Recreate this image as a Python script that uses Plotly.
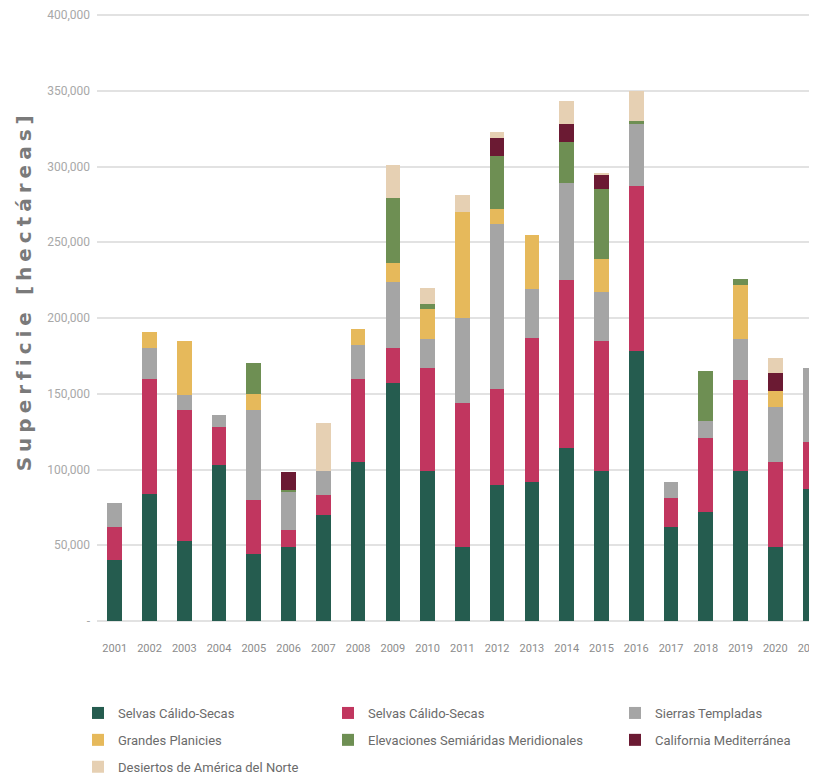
import plotly.graph_objects as go

years = [str(y) for y in range(2001, 2022)]

selvas_1 = [40000, 84000, 53000, 103000, 44000, 49000, 70000, 105000, 157000, 99000, 49000,
            90000, 92000, 114000, 99000, 178000, 62000, 72000, 99000, 49000, 87000]
selvas_2 = [22000, 76000, 86000, 25000, 36000, 11000, 13000, 55000, 23000, 68000, 95000,
            63000, 95000, 111000, 86000, 109000, 19000, 49000, 60000, 56000, 31000]
sierras = [16000, 20000, 10000, 8000, 59000, 25000, 16000, 22000, 44000, 19000, 56000,
           109000, 32000, 64000, 32000, 41000, 11000, 11000, 27000, 36000, 49000]
planicies = [0, 11000, 36000, 0, 11000, 0, 0, 11000, 12000, 20000, 70000,
             10000, 36000, 0, 22000, 0, 0, 0, 36000, 11000, 0]
elevaciones = [0, 0, 0, 0, 20000, 1500, 0, 0, 43000, 3000, 0,
               35000, 0, 27000, 46000, 2000, 0, 33000, 3500, 0, 0]
california = [0, 0, 0, 0, 0, 12000, 0, 0, 0, 0, 0,
              12000, 0, 12000, 10000, 0, 0, 0, 0, 12000, 0]
desiertos = [0, 0, 0, 0, 0, 0, 32000, 0, 22000, 11000, 11000,
             4000, 0, 15000, 1000, 20000, 0, 0, 0, 9500, 0]

series = [
    ("Selvas Cálido-Secas", selvas_1, "#255c4f", "legend"),
    ("Selvas Cálido-Secas", selvas_2, "#c1365f", "legend2"),
    ("Sierras Templadas", sierras, "#a5a5a5", "legend3"),
    ("Grandes Planicies", planicies, "#e6b95b", "legend"),
    ("Elevaciones Semiáridas Meridionales", elevaciones, "#6e8f53", "legend2"),
    ("California Mediterránea", california, "#6b1a33", "legend3"),
    ("Desiertos de América del Norte", desiertos, "#e6d0b3", "legend"),
]

y_tickvals = [0, 50000, 100000, 150000, 200000, 250000, 300000, 350000, 400000]
y_ticktext = ["-", "50,000", "100,000", "150,000", "200,000", "250,000", "300,000", "350,000", "400,000"]

fig = go.Figure()
for i, (name, vals, color, lg) in enumerate(series):
    fig.add_trace(go.Bar(
        x=years, y=vals, name=name,
        marker=dict(color=color, line=dict(width=0)),
        legend=lg, legendgroup=f"g{i}",
    ))

W, H = 817, 776
legend_common = dict(
    orientation="v", xref="container", yref="container",
    xanchor="left", yanchor="top", bgcolor="rgba(0,0,0,0)",
    font=dict(family="Roboto, sans-serif", size=13, color="#6b6b6b"),
    tracegroupgap=7, itemwidth=30, traceorder="grouped",
)
ytop = 1 - 690 / H

fig.update_layout(
    width=W, height=H,
    paper_bgcolor="white", plot_bgcolor="white",
    barmode="stack", bargap=0.58,
    margin=dict(l=89, r=0, t=4.47, b=163, autoexpand=False),
    font=dict(family="Roboto, sans-serif"),
    xaxis=dict(
        type="category", range=[-0.51, 20.43],
        showgrid=False, showline=False, ticks="",
        tickfont=dict(size=11, color="#8c8c8c"),
        ticklabelstandoff=19,
    ),
    yaxis=dict(
        range=[0, 402000], tickvals=y_tickvals, ticktext=y_ticktext,
        showgrid=True, gridcolor="#e2e2e2", gridwidth=2,
        zeroline=True, zerolinecolor="#e2e2e2", zerolinewidth=2,
        showline=False, ticks="",
        tickfont=dict(size=12, color="#a8a8a8"),
        ticklabelstandoff=6, ticklabeloverflow="allow",
    ),
    legend=dict(x=70 / W, y=ytop, **legend_common),
    legend2=dict(x=320 / W, y=ytop, **legend_common),
    legend3=dict(x=607 / W, y=ytop, **legend_common),
    annotations=[dict(
        text='<span style="letter-spacing:5px">Superficie [hectáreas]</span>',
        textangle=-90, xref="paper", yref="paper",
        x=-0.1003, y=0.543, xanchor="center", yanchor="middle",
        showarrow=False,
        font=dict(family="DejaVu Sans", size=20, color="#7a7a7a", weight="bold"),
    )],
)

fig.write_html("out.html")
